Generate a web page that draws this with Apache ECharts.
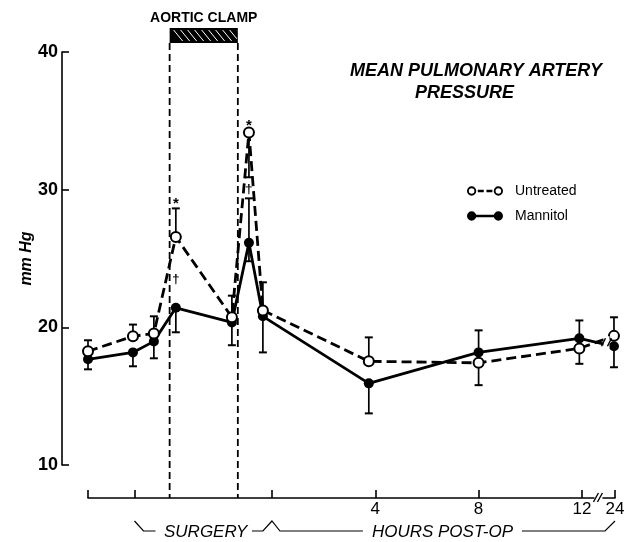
<!DOCTYPE html>
<html><head><meta charset="utf-8">
<script src="https://cdn.jsdelivr.net/npm/echarts@6/dist/echarts.min.js"></script>
<style>html,body{margin:0;padding:0;background:#fff}#c{width:633px;height:542px}</style>
</head><body><div id="c"></div>
<script>
// ---- data ----
// x positions (axis units: hours after surgery; surgery points at negative positions, 24 h drawn after axis break)
const xPositions = [-7.12, -5.38, -4.57, -3.72, -1.55, -0.89, -0.35, 3.75, 8, 11.9, 13.24];
const untreated = [18.26, 19.35, 19.56, 26.57, 20.73, 34.16, 21.23, 17.53, 17.42, 18.47, 19.38];
const untreatedErrEnd = [19.06, 20.2, 20.8, 28.64, 22.3, 30.9, 23.27, 19.27, 15.8, 17.35, 20.73];
const mannitol = [17.68, 18.18, 18.98, 21.42, 20.36, 26.14, 20.8, 15.93, 18.18, 19.2, 18.62];
const mannitolErrEnd = [16.95, 17.17, 17.75, 19.64, 18.7, 29.37, 18.18, 13.75, 19.78, 20.5, 17.1];
const mannitolExtraErrIndex = [5];
const mannitolExtraErrEnd = [24.8];
const xTickValues = [-7.12, -5.32, 0, 4, 8, 12, 13.28];
const xTickLabels = ['', '', '', '4', '8', '12', '24'];
const xLabelValues = [4, 8, 12, 13.28];
const yTicks = [10, 20, 30, 40];
const clampStart = -3.96, clampEnd = -1.32;
const annotIndex = [3, 3, 5, 5];
const annotValue = [28.95, 23.5, 34.62, 30.0];
const annotText = ['*', '\u2020', '*', '\u2020'];

const FONT = 'Liberation Sans, Arial, Helvetica, sans-serif';
const chart = echarts.init(document.getElementById('c'));

function errData(vals, ends) { return vals.map((v, i) => [xPositions[i], v, ends[i]]); }
const mannErr = errData(mannitol, mannitolErrEnd).concat(
  mannitolExtraErrIndex.map((idx, k) => [xPositions[idx], mannitol[idx], mannitolExtraErrEnd[k]]));

function renderErr(params, api) {
  const x = api.value(0), m = api.value(1), e = api.value(2);
  const p1 = api.coord([x, m]), p2 = api.coord([x, e]);
  const cap = 4;
  return { type: 'group', children: [
    { type: 'line', shape: { x1: p1[0], y1: p1[1], x2: p2[0], y2: p2[1] }, style: { stroke: '#000', lineWidth: 1.7 } },
    { type: 'line', shape: { x1: p2[0] - cap, y1: p2[1], x2: p2[0] + cap, y2: p2[1] }, style: { stroke: '#000', lineWidth: 2 } }
  ]};
}
function renderAnnot(params, api) {
  const p = api.coord([api.value(0), api.value(1)]);
  const t = annotText[params.dataIndex];
  return { type: 'text', x: p[0], y: p[1], style: { text: t, font: 'bold ' + (t === '*' ? 15 : 13) + 'px ' + FONT, fill: '#000', align: 'center', verticalAlign: 'middle' } };
}

const iconUntreated = 'path://M0.5,5A4.5,4.5,0,1,1,9.5,5A4.5,4.5,0,1,1,0.5,5ZM2.3,5A2.7,2.7,0,1,0,7.7,5A2.7,2.7,0,1,0,2.3,5ZM11,3.9L16.8,3.9L16.8,6.1L11,6.1ZM19.4,3.9L25.2,3.9L25.2,6.1L19.4,6.1ZM26.5,5A4.5,4.5,0,1,1,35.5,5A4.5,4.5,0,1,1,26.5,5ZM28.3,5A2.7,2.7,0,1,0,33.7,5A2.7,2.7,0,1,0,28.3,5Z';
const iconMannitol = 'path://M0.5,5A4.5,4.5,0,1,1,9.5,5A4.5,4.5,0,1,1,0.5,5ZM8,3.9L28,3.9L28,6.1L8,6.1ZM26.5,5A4.5,4.5,0,1,1,35.5,5A4.5,4.5,0,1,1,26.5,5Z';

chart.setOption({
  animation: false,
  backgroundColor: '#fff',
  title: [
    { text: 'MEAN PULMONARY ARTERY', left: 350, top: 62, padding: 0,
      textStyle: { fontFamily: FONT, fontSize: 18, fontWeight: 'bold', fontStyle: 'italic', color: '#000' } },
    { text: 'PRESSURE', left: 415, top: 84, padding: 0,
      textStyle: { fontFamily: FONT, fontSize: 18, fontWeight: 'bold', fontStyle: 'italic', color: '#000' } }
  ],
  legend: {
    left: 467, top: 184, orient: 'vertical', itemWidth: 36, itemHeight: 10, itemGap: 11, padding: 0,
    textStyle: { fontFamily: FONT, fontSize: 14, color: '#000', padding: [0, 0, 0, 7] },
    data: [
      { name: 'Untreated', icon: iconUntreated, itemStyle: { color: '#000', borderWidth: 0 } },
      { name: 'Mannitol', icon: iconMannitol, itemStyle: { color: '#000', borderWidth: 0 } }
    ]
  },
  grid: { left: 88, right: 18, top: 52, bottom: 77 },
  xAxis: {
    type: 'value', min: xTickValues[0], max: xTickValues[xTickValues.length - 1], offset: 33,
    splitLine: { show: false },
    axisLine: { onZero: false, lineStyle: { color: '#000', width: 1.6 } },
    axisTick: { inside: true, length: 8, customValues: xTickValues, lineStyle: { color: '#000', width: 1.6 } },
    axisLabel: { customValues: xLabelValues, margin: 3, color: '#000', fontFamily: FONT, fontSize: 17,
      formatter: v => { let best = 0; xTickValues.forEach((t, i) => { if (Math.abs(t - v) < Math.abs(xTickValues[best] - v)) best = i; }); return xTickLabels[best]; } }
  },
  yAxis: {
    type: 'value', min: 10, max: 40, interval: 10, offset: 26,
    name: 'mm Hg', nameLocation: 'middle', nameRotate: 90, nameGap: 27, nameMoveOverlap: false,
    nameTextStyle: { fontFamily: FONT, fontSize: 16, fontStyle: 'italic', fontWeight: 'bold', color: '#000' },
    splitLine: { show: false },
    axisLine: { show: true, onZero: false, lineStyle: { color: '#000', width: 1.6 } },
    axisTick: { show: true, inside: true, length: 7, lineStyle: { color: '#000', width: 1.6 } },
    axisLabel: { margin: 4, color: '#000', fontFamily: FONT, fontSize: 18, fontWeight: 'bold' }
  },
  series: [
    { type: 'custom', name: 'errU', renderItem: renderErr, data: errData(untreated, untreatedErrEnd), encode: { x: 0, y: [1, 2] }, z: 1, silent: true },
    { type: 'custom', name: 'errM', renderItem: renderErr, data: mannErr, encode: { x: 0, y: [1, 2] }, z: 1, silent: true },
    { type: 'line', name: 'Untreated', data: untreated.map((v, i) => [xPositions[i], v]), z: 3,
      symbol: 'emptyCircle', symbolSize: 10, color: '#000',
      lineStyle: { color: '#000', width: 2.8, type: [10, 5] },
      itemStyle: { color: '#000', borderWidth: 2 } },
    { type: 'line', name: 'Mannitol', data: mannitol.map((v, i) => [xPositions[i], v]), z: 2,
      symbol: 'circle', symbolSize: 10, color: '#000',
      lineStyle: { color: '#000', width: 2.8 },
      itemStyle: { color: '#000' } },
    { type: 'custom', name: 'annot', renderItem: renderAnnot, data: annotIndex.map((idx, k) => [xPositions[idx], annotValue[k]]), z: 4, silent: true }
  ]
});

// ---- decorations anchored to the axes ----
const px = (x, y) => chart.convertToPixel({ gridIndex: 0 }, [x, y]);
const axisY = px(0, 10)[1] + 33;
const cx1 = px(clampStart, 10)[0], cx2 = px(clampEnd, 10)[0];
const barTop = 28, barBot = 43;
const g = [];
// dashed clamp lines
[cx1, cx2].forEach(x => g.push({ type: 'line', shape: { x1: x, y1: barBot, x2: x, y2: axisY }, style: { stroke: '#000', lineWidth: 1.8, lineDash: [7, 4] }, z: 0 }));
// clamp bar with hatching
g.push({ type: 'rect', shape: { x: cx1, y: barTop, width: cx2 - cx1, height: barBot - barTop }, style: { fill: '#000' }, z: 5 });
for (let x = cx1 + 4; x < cx2; x += 7) {
  g.push({ type: 'line', shape: { x1: x, y1: barTop + 2, x2: Math.min(x + 9, cx2 - 1), y2: barTop + 2 + (Math.min(x + 9, cx2 - 1) - x) * 11 / 9 }, style: { stroke: '#fff', lineWidth: 1 }, z: 6 });
}
g.push({ type: 'text', x: (cx1 + cx2) / 2, y: 18, style: { text: 'AORTIC CLAMP', font: 'bold 14px ' + FONT, fill: '#000', align: 'center', verticalAlign: 'middle' }, z: 5 });
// axis break
const xb = px(12.6, 10)[0];
g.push({ type: 'rect', shape: { x: xb - 3, y: axisY - 3, width: 8, height: 6 }, style: { fill: '#fff' }, z: 10 });
g.push({ type: 'line', shape: { x1: xb - 4, y1: axisY + 4, x2: xb + 1, y2: axisY - 5 }, style: { stroke: '#000', lineWidth: 1.4 }, z: 11 });
g.push({ type: 'line', shape: { x1: xb, y1: axisY + 4, x2: xb + 5, y2: axisY - 5 }, style: { stroke: '#000', lineWidth: 1.4 }, z: 11 });
// line break between 12 h and 24 h
const lb = px(12.95, (untreated[9] + untreated[10] + mannitol[9] + mannitol[10]) / 4);
g.push({ type: 'rect', shape: { x: lb[0] - 3, y: lb[1] - 6, width: 6, height: 12 }, style: { fill: '#fff' }, z: 10 });
g.push({ type: 'line', shape: { x1: lb[0] - 5, y1: lb[1] + 4, x2: lb[0] - 1, y2: lb[1] - 4 }, style: { stroke: '#000', lineWidth: 1.5 }, z: 11 });
g.push({ type: 'line', shape: { x1: lb[0] + 1, y1: lb[1] + 4, x2: lb[0] + 5, y2: lb[1] - 4 }, style: { stroke: '#000', lineWidth: 1.5 }, z: 11 });
// brackets under the axis
const t1 = px(xTickValues[1], 10)[0], t0 = px(0, 10)[0], tEnd = px(xTickValues[6], 10)[0];
const yb = axisY + 33, yt = axisY + 23;
g.push({ type: 'polyline', shape: { points: [[t1, yt], [t1 + 9, yb], [t1 + 21, yb]] }, style: { stroke: '#000', lineWidth: 1.2, fill: null } });
g.push({ type: 'polyline', shape: { points: [[t0 - 20, yb], [t0 - 9, yb], [t0, yt], [t0 + 8, yb], [t0 + 91, yb]] }, style: { stroke: '#000', lineWidth: 1.2, fill: null } });
g.push({ type: 'polyline', shape: { points: [[t0 + 250, yb], [tEnd - 10, yb], [tEnd, yt]] }, style: { stroke: '#000', lineWidth: 1.2, fill: null } });
g.push({ type: 'text', x: (t1 + 21 + t0 - 20) / 2 + 2, y: yb + 1, style: { text: 'SURGERY', font: 'italic 17px ' + FONT, fill: '#000', align: 'center', verticalAlign: 'middle' } });
g.push({ type: 'text', x: (t0 + 91 + t0 + 250) / 2, y: yb + 1, style: { text: 'HOURS POST-OP', font: 'italic 17px ' + FONT, fill: '#000', align: 'center', verticalAlign: 'middle' } });
chart.setOption({ graphic: g });
</script>
</body></html>
